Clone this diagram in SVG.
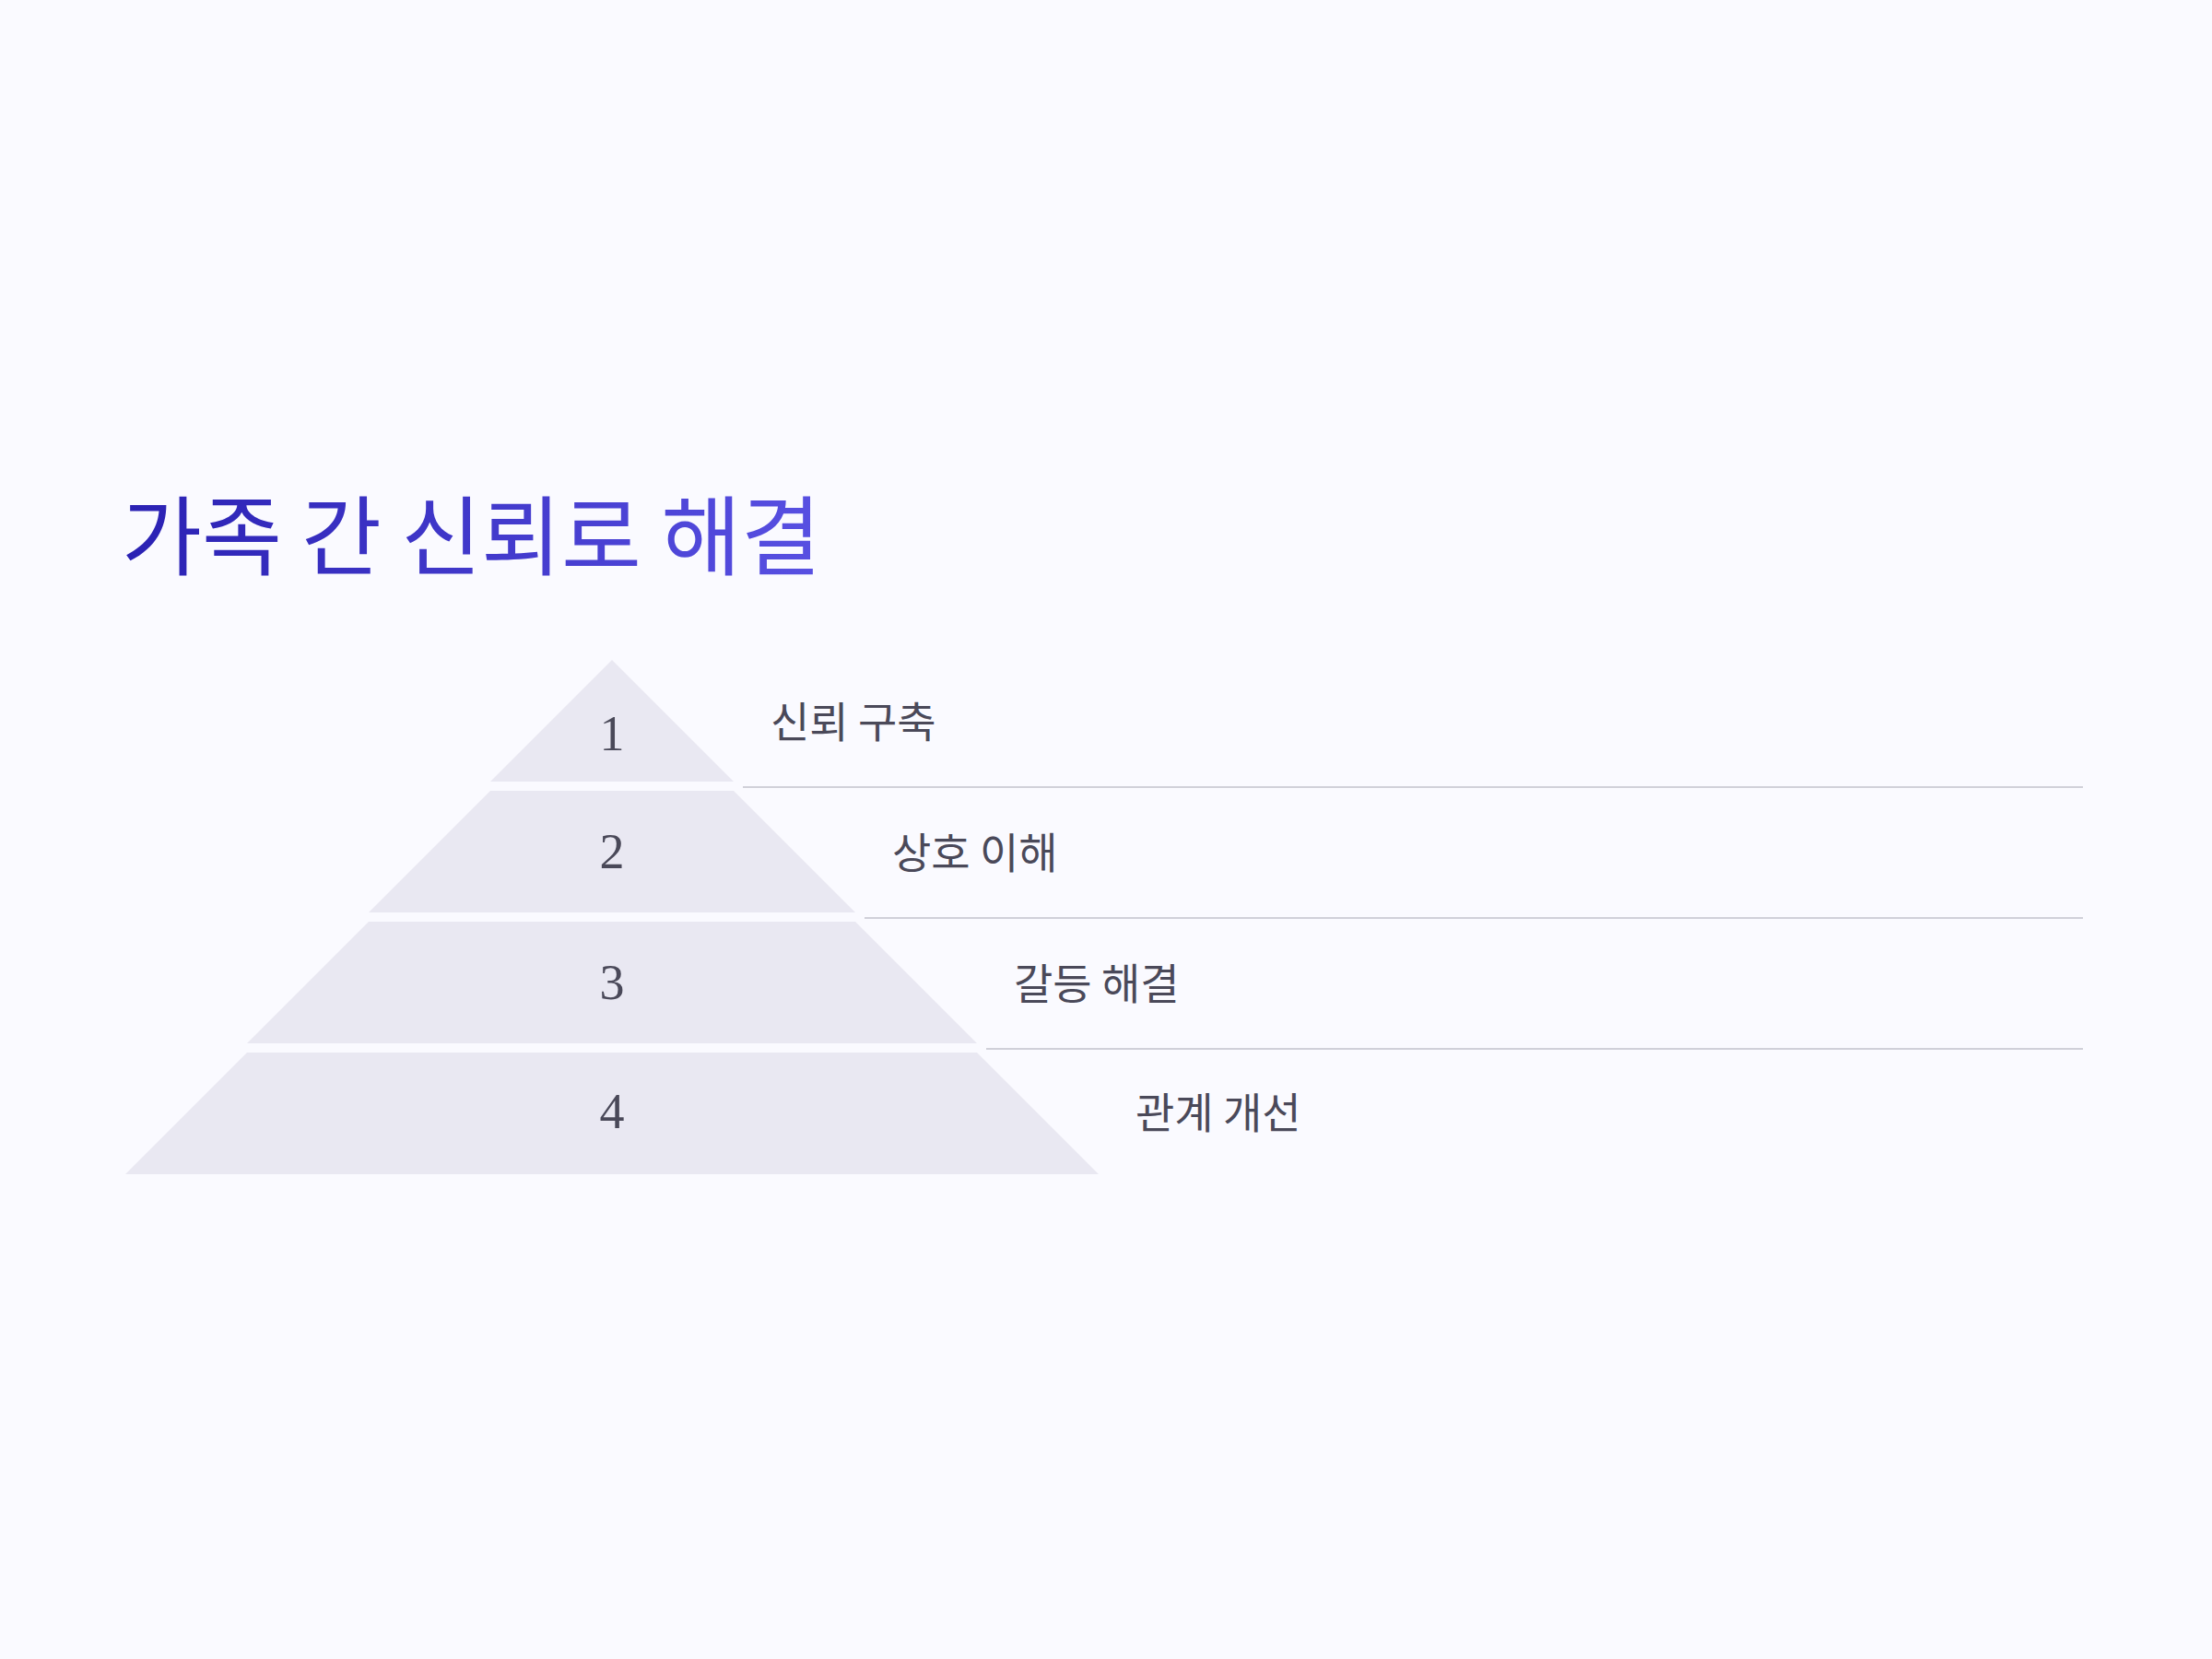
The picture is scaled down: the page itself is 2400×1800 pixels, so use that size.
<svg xmlns="http://www.w3.org/2000/svg" width="2400" height="1800" viewBox="0 0 2400 1800">
<defs>
<linearGradient id="tg" gradientUnits="userSpaceOnUse" x1="136" y1="0" x2="891" y2="0">
<stop offset="0" stop-color="#2a21b3"/>
<stop offset="1" stop-color="#5850e2"/>
</linearGradient>
<style>
.tier{fill:#e9e8f2;}
.num{font-family:"Liberation Serif","DejaVu Serif",serif;font-size:54px;fill:#4a4959;text-anchor:middle;}
.lbl{font-family:"Noto Sans CJK KR","Noto Sans",sans-serif;font-size:46px;fill:#4a4959;}
.sep{stroke:#d0d0d9;stroke-width:2;fill:none;}
.title{font-family:"Noto Sans CJK KR","Noto Sans",sans-serif;font-size:94.5px;fill:url(#tg);}
</style>
</defs>
<rect x="0" y="0" width="2400" height="1800" fill="#fafaff"/>
<text class="title" x="132" y="617">가족 간 신뢰로 해결</text>
<g id="connectors">
<line class="sep" x1="806" y1="854" x2="2260" y2="854"/>
<line class="sep" x1="938" y1="996" x2="2260" y2="996"/>
<line class="sep" x1="1070" y1="1138" x2="2260" y2="1138"/>
</g>
<g id="tier1">
<polygon class="tier" points="664,716 796,848 532,848"/>
<text class="num" x="664" y="814">1</text>
<text class="lbl" x="836" y="800">신뢰 구축</text>
</g>
<g id="tier2">
<polygon class="tier" points="532,858 796,858 928,990 400,990"/>
<text class="num" x="664" y="942">2</text>
<text class="lbl" x="968" y="942">상호 이해</text>
</g>
<g id="tier3">
<polygon class="tier" points="400,1000 928,1000 1060,1132 268,1132"/>
<text class="num" x="664" y="1084">3</text>
<text class="lbl" x="1100" y="1084">갈등 해결</text>
</g>
<g id="tier4">
<polygon class="tier" points="268,1142 1060,1142 1192,1274 136,1274"/>
<text class="num" x="664" y="1224">4</text>
<text class="lbl" x="1232" y="1224">관계 개선</text>
</g>
</svg>
